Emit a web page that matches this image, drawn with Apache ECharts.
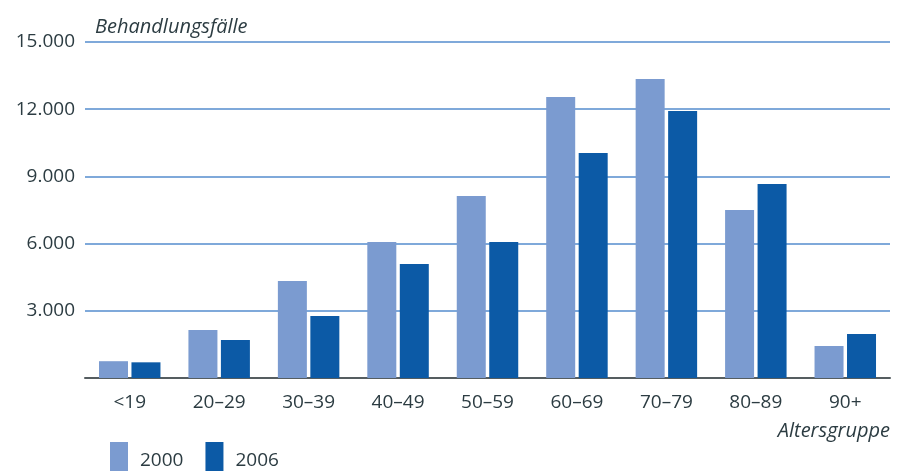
<!DOCTYPE html>
<html><head><meta charset="utf-8">
<script src="https://cdn.jsdelivr.net/npm/echarts@6/dist/echarts.min.js"></script>
<style>html,body{margin:0;padding:0;background:#fff}#c{width:902px;height:471px}</style>
</head><body><div id="c"></div>
<script>
var categories = ['<19','20–29','30–39','40–49','50–59','60–69','70–79','80–89','90+'];
var series2000 = [750, 2140, 4330, 6070, 8130, 12540, 13350, 7500, 1430];
var series2006 = [700, 1700, 2770, 5090, 6070, 10040, 11920, 8660, 1960];
var yTicks = [0, 3000, 6000, 9000, 12000, 15000];

var textColor = '#2c3c42';
var font = 'Open Sans';
var chart = echarts.init(document.getElementById('c'));
chart.setOption({
  animation: false,
  backgroundColor: '#fff',
  grid: {left: 85, right: 12, top: 42, bottom: 93, containLabel: false},
  legend: {
    left: 105, top: 437, itemWidth: 18, itemHeight: 38, itemGap: 22,
    icon: 'rect',
    data: ['2000', '2006'],
    textStyle: {fontFamily: font, fontSize: 19, color: textColor, padding: [22, 0, 0, 7]}
  },
  xAxis: {
    type: 'category', data: categories,
    axisLine: {lineStyle: {color: '#555d60', width: 2}},
    axisTick: {show: false},
    axisLabel: {fontFamily: font, fontSize: 19, color: textColor, margin: 15},
    name: 'Altersgruppe', nameLocation: 'end', nameGap: 0,
    nameTextStyle: {fontFamily: font, fontSize: 20, fontStyle: 'italic', color: textColor,
      align: 'right', verticalAlign: 'top', padding: [43, 0, 0, 0]}
  },
  yAxis: {
    type: 'value', min: yTicks[0], max: yTicks[yTicks.length - 1], interval: 3000,
    axisLine: {show: false}, axisTick: {show: false},
    splitLine: {lineStyle: {color: '#7fa9da', width: 2}},
    axisLabel: {fontFamily: font, fontSize: 19, color: textColor, margin: 10,
      formatter: function (v) { return v === 0 ? '' : (v / 1000).toFixed(0) + '.000'; }},
    name: 'Behandlungsfälle', nameLocation: 'end', nameGap: 15,
    nameTextStyle: {fontFamily: font, fontSize: 20, fontStyle: 'italic', color: textColor,
      align: 'left', verticalAlign: 'middle', padding: [0, 0, 0, 10]}
  },
  series: [
    {name: '2000', type: 'bar', data: series2000, barWidth: 29, barGap: '12%',
      itemStyle: {color: '#7b9bd0'}},
    {name: '2006', type: 'bar', data: series2006, barWidth: 29,
      itemStyle: {color: '#0c5aa6'}}
  ]
});
</script></body></html>
